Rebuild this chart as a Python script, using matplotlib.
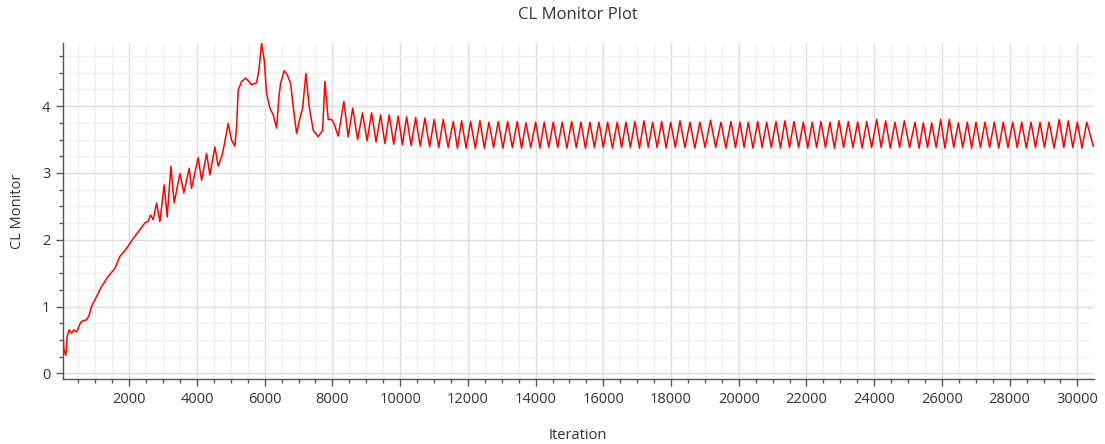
import numpy as np
import matplotlib
matplotlib.use("Agg")
import matplotlib.pyplot as plt
from matplotlib.ticker import MultipleLocator

plt.rcParams['font.family'] = ['Open Sans', 'DejaVu Sans']

# start-up transient (iteration, CL)
early_iter = [50, 71, 130, 168, 227, 298, 366, 446, 493, 564, 641, 741, 818, 889,
              1037, 1184, 1379, 1577, 1725, 1923, 2118, 2315, 2463, 2561, 2631, 2708,
              2809, 2906, 3033, 3122, 3231, 3328, 3497, 3615, 3771, 3842, 4037, 4138,
              4285, 4383, 4530, 4628, 4728, 4796, 4923, 5024, 5121, 5171, 5219, 5319,
              5446, 5614, 5762, 5830, 5910, 5986, 6057, 6155, 6252, 6353, 6421, 6471,
              6577, 6666, 6766, 6843, 6943, 7041, 7121, 7218, 7315, 7433, 7581, 7711,
              7779, 7877, 7977, 8045, 8172]
early_cl = [0.55, 0.35, 0.27, 0.55, 0.65, 0.60, 0.65, 0.62, 0.67, 0.76, 0.79, 0.80, 0.87, 1.00,
            1.15, 1.30, 1.45, 1.57, 1.75, 1.87, 2.02, 2.15, 2.25, 2.28, 2.37, 2.30,
            2.55, 2.27, 2.82, 2.34, 3.10, 2.55, 2.99, 2.70, 3.07, 2.77, 3.23, 2.89,
            3.29, 2.97, 3.39, 3.10, 3.24, 3.39, 3.74, 3.49, 3.40, 3.69, 4.24, 4.37,
            4.42, 4.32, 4.35, 4.54, 4.94, 4.69, 4.19, 3.97, 3.87, 3.67, 4.14, 4.34,
            4.53, 4.47, 4.34, 3.99, 3.59, 3.82, 3.97, 4.49, 3.99, 3.64, 3.54, 3.64,
            4.37, 3.80, 3.80, 3.74, 3.55]

# periodic regime: peaks
peak_iter = [8340, 8600, 8890, 9158, 9424, 9678, 9944, 10192, 10458, 10733,
             11007, 11273, 11568, 11816, 12082, 12357, 12622, 12897, 13175, 13458,
             13715, 14002, 14256, 14522, 14787, 15065, 15340, 15605, 15871, 16128,
             16412, 16669, 16934, 17200, 17457, 17723, 17989, 18264, 18559, 18850, 19165,
             19474, 19769, 20035, 20281, 20558, 20824, 21099, 21364, 21630, 21905,
             22170, 22428, 22693, 22959, 23234, 23511, 23777, 24073, 24338, 24613, 24888,
             25204, 25449, 25697, 25963, 26217, 26483, 26748, 27005, 27271, 27546,
             27811, 28089, 28355, 28629, 28895, 29161, 29465, 29731, 29997, 30275]
peak_cl = [4.07, 3.97, 3.90, 3.90, 3.87, 3.87, 3.85, 3.84, 3.83, 3.82,
           3.80, 3.80, 3.77, 3.78, 3.77, 3.78, 3.76, 3.77, 3.77, 3.77,
           3.75, 3.76, 3.76, 3.76, 3.76, 3.77, 3.76, 3.76, 3.76, 3.76,
           3.76, 3.76, 3.77, 3.78, 3.76, 3.77, 3.76, 3.78, 3.76, 3.76, 3.79,
           3.76, 3.77, 3.76, 3.76, 3.77, 3.76, 3.77, 3.78, 3.77, 3.76,
           3.76, 3.77, 3.76, 3.78, 3.77, 3.76, 3.77, 3.80, 3.78, 3.76, 3.78,
           3.76, 3.75, 3.75, 3.80, 3.80, 3.75, 3.76, 3.76, 3.76, 3.76,
           3.76, 3.76, 3.76, 3.76, 3.76, 3.76, 3.80, 3.78, 3.76, 3.76]

# periodic regime: troughs (plus last sample)
trough_iter = [8467, 8745, 9024, 9291, 9551, 9811, 10068, 10325, 10595, 10870,
               11140, 11420, 11692, 11949, 12220, 12490, 12760, 13036, 13316, 13586,
               13858, 14129, 14389, 14654, 14926, 15202, 15472, 15738, 16000, 16270,
               16540, 16801, 17067, 17328, 17590, 17856, 18126, 18411, 18704, 19008,
               19320, 19621, 19902, 20158, 20420, 20691, 20961, 21231, 21497, 21767,
               22037, 22299, 22560, 22826, 23096, 23372, 23644, 23925, 24205, 24475,
               24750, 25046, 25326, 25573, 25830, 26090, 26350, 26615, 26876, 27138,
               27408, 27678, 27950, 28222, 28492, 28762, 29028, 29313, 29598, 29864,
               30136, 30470]
trough_cl = [3.54, 3.50, 3.48, 3.46, 3.44, 3.43, 3.42, 3.41, 3.40, 3.39,
             3.38, 3.38, 3.37, 3.37, 3.37, 3.37, 3.38, 3.37, 3.38, 3.37,
             3.38, 3.37, 3.38, 3.38, 3.37, 3.38, 3.37, 3.38, 3.38, 3.37,
             3.38, 3.38, 3.37, 3.38, 3.38, 3.37, 3.38, 3.38, 3.37, 3.38,
             3.38, 3.37, 3.38, 3.38, 3.37, 3.38, 3.38, 3.37, 3.38, 3.38,
             3.37, 3.38, 3.38, 3.37, 3.38, 3.38, 3.37, 3.38, 3.38, 3.37,
             3.38, 3.38, 3.37, 3.38, 3.38, 3.37, 3.38, 3.38, 3.37, 3.38,
             3.38, 3.37, 3.38, 3.38, 3.37, 3.38, 3.38, 3.37, 3.38, 3.38,
             3.37, 3.40]

steady = sorted(zip(peak_iter + trough_iter, peak_cl + trough_cl))
iters = np.array(early_iter + [s[0] for s in steady])
cl = np.array(early_cl + [s[1] for s in steady])

W, H = 1105, 444
fig = plt.figure(figsize=(W / 100, H / 100), dpi=100)
ax = fig.add_axes([63 / W, 1 - 379 / H, (1094 - 63) / W, (379 - 43) / H])

ax.plot(iters, cl, color='#ff0000', lw=1.1, zorder=3)

ax.set_xlim(45, 30490)
ax.set_ylim(-0.085, 4.945)
ax.xaxis.set_major_locator(MultipleLocator(2000))
ax.xaxis.set_minor_locator(MultipleLocator(500))
ax.yaxis.set_major_locator(MultipleLocator(1))
ax.yaxis.set_minor_locator(MultipleLocator(0.25))

ax.grid(which='major', color='#dedede', lw=1.0, zorder=0)
ax.grid(which='minor', color='#f0f0f0', lw=1.0, zorder=0)
ax.set_axisbelow(True)

for s in ['top', 'right']:
    ax.spines[s].set_visible(False)
for s in ['left', 'bottom']:
    ax.spines[s].set_color('#555555')
    ax.spines[s].set_linewidth(1.0)

ax.tick_params(which='major', length=5, width=1, color='#555555',
               labelsize=10.5, labelcolor='#333333', pad=4)
ax.tick_params(which='minor', length=3, width=1, color='#555555')

fig.text(578 / W, 1 - 15 / H, 'CL Monitor Plot', ha='center', va='center',
         fontsize=12, color='#333333')
fig.text(578 / W, 1 - 435 / H, 'Iteration', ha='center', va='center',
         fontsize=10.5, color='#333333')
fig.text(18 / W, 1 - 211 / H, 'CL Monitor', ha='center', va='center',
         rotation=90, fontsize=10.5, color='#333333')

fig.savefig('out.png', dpi=100)
